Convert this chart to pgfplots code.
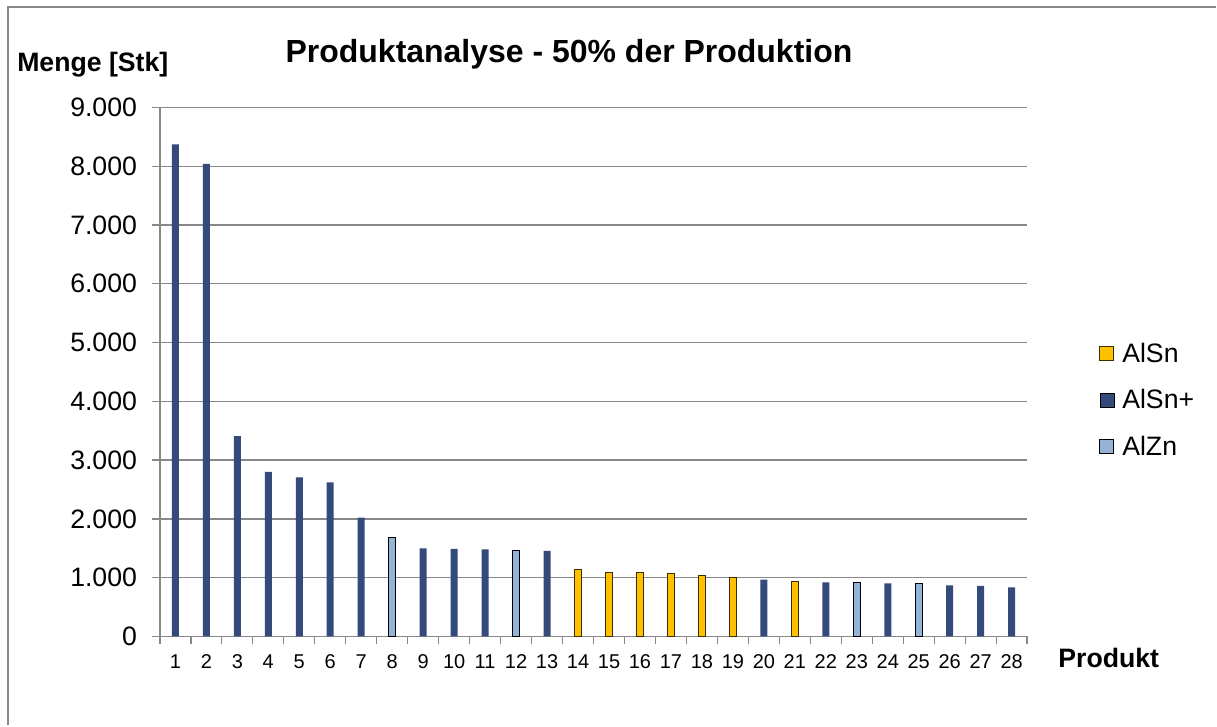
\documentclass[border=0pt]{standalone}
\usepackage{fontspec}
\setmainfont{Liberation Sans}
\usepackage{pgfplots}
\pgfplotsset{compat=1.18}
\definecolor{alsn}{HTML}{FFC000}
\definecolor{alsnb}{HTML}{3A2E00}
\definecolor{alsnp}{HTML}{344A7A}
\definecolor{alzn}{HTML}{95B3D7}
\definecolor{gridg}{HTML}{888888}
\pgfplotsset{sqlegend/.style={legend image code/.code={\draw[##1] (0pt,-5.25pt) rectangle (10.5pt,5.25pt);}}}
\begin{document}
\begin{tikzpicture}
\path (0,0) rectangle (912.75pt,544.5pt);
\draw[color=gridg, line width=1.5pt] (6.2pt,0) -- (6.2pt,539.5pt) -- (912.75pt,539.5pt);
\begin{axis}[
  at={(120pt,66.75pt)}, anchor=south west,
  scale only axis, width=651pt, height=397.1pt,
  xmin=0.5, xmax=28.5, ymin=0, ymax=9000,
  axis x line*=bottom, axis y line*=left,
  axis line style={gridg, line width=1pt, -},
  xtick={1,...,28}, minor xtick={0.5,1.5,...,28.5},
  ytick={0,1000,...,9000},
  tick align=outside, major tick length=6pt, minor tick length=6pt,
  major x tick style={draw=none},
  minor x tick style={gridg, line width=1pt},
  major y tick style={gridg, line width=1pt},
  ymajorgrids, grid style={gridg, line width=1pt},
  tick label style={inner sep=0pt},
  yticklabel style={font=\fontsize{20}{24}\selectfont},
  xticklabel style={font=\fontsize{15}{18}\selectfont},
  /pgf/number format/1000 sep={.},
  /pgf/number format/assume math mode=true,
  yticklabel shift=11pt,
  xticklabel shift=7.5pt,
  ybar, bar width=5.25pt, bar shift=0pt,
  legend style={draw=none, fill=none, at={(1.0829,0.4466)}, anchor=west,
    inner sep=0pt, row sep=19pt, column sep=6pt,
    font=\fontsize{20}{24}\selectfont, nodes={inner sep=0pt}},
  legend cell align=left,
]
\addplot[sqlegend, fill=alsn, draw=alsnb, line width=0.75pt, bar shift=0pt] coordinates {
 (14,1140) (15,1090) (16,1085) (17,1075) (18,1030) (19,995) (21,935)};
\addplot[sqlegend, fill=alsnp, draw=none, bar shift=0pt] coordinates {
 (1,8370) (2,8040) (3,3410) (4,2800) (5,2705) (6,2620) (7,2020) (9,1500) (10,1490) (11,1480) (13,1455) (20,965) (22,920) (24,905) (26,870) (27,860) (28,835)};
\addplot[sqlegend, fill=alzn, draw=black, line width=0.75pt, bar shift=0pt] coordinates {
 (8,1680) (12,1470) (23,925) (25,905)};
\legend{AlSn, AlSn+, AlZn}
\end{axis}
\node[anchor=base, font=\fontsize{24}{28}\selectfont\bfseries] at (427.1pt,497.25pt) {Produktanalyse - 50\% der Produktion};
\node[anchor=base west, inner sep=0pt, font=\fontsize{20}{24}\selectfont\bfseries] at (12.75pt,490.5pt) {Menge [Stk]};
\node[anchor=base west, inner sep=0pt, font=\fontsize{20}{24}\selectfont\bfseries] at (794.25pt,43.5pt) {Produkt};
\end{tikzpicture}
\end{document}
